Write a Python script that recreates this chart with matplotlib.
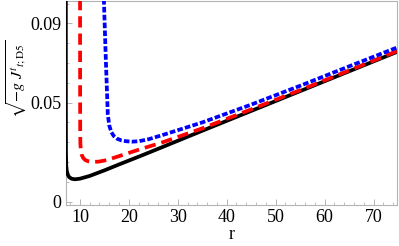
import matplotlib
matplotlib.use("Agg")
import matplotlib.pyplot as plt
from matplotlib.ticker import MultipleLocator, FixedLocator

# data
r_black = [7.12, 7.13, 7.15, 7.2, 7.3, 7.5, 7.8, 8.3, 9.0, 10.0, 12.0, 15.0, 18.0, 22.2, 26.7, 35.0, 45.0, 55.0, 65.0, 75.0]
y_black = [0.110, 0.050, 0.025, 0.0185, 0.0158, 0.0138, 0.0124, 0.0116, 0.0113, 0.0116, 0.0130, 0.0158, 0.0188, 0.0229, 0.0274, 0.0358, 0.0458, 0.0558, 0.0658, 0.0758]

r_red = [10.03, 10.04, 10.06, 10.1, 10.2, 10.4, 10.7, 11.1, 11.7, 12.5, 13.8, 15.5, 18.0, 22.2, 26.7, 35.0, 45.0, 55.0, 65.0, 75.0]
y_red = [0.110, 0.060, 0.035, 0.029, 0.0258, 0.0234, 0.0220, 0.0210, 0.0204, 0.0201, 0.0202, 0.0210, 0.0230, 0.0264, 0.0298, 0.0370, 0.0466, 0.0563, 0.0662, 0.0762]

r_blue = [14.85, 14.9, 15.3, 15.7, 16.0, 16.4, 16.9, 17.6, 18.5, 19.5, 20.7, 22.0, 24.0, 26.7, 35.0, 45.0, 55.0, 65.0, 75.0]
y_blue = [0.110, 0.1018, 0.0715, 0.0440, 0.0385, 0.0352, 0.0332, 0.0318, 0.0309, 0.0305, 0.0303, 0.0305, 0.0315, 0.0335, 0.0400, 0.0490, 0.0585, 0.0683, 0.0780]

x_ticks = [10, 20, 30, 40, 50, 60, 70]
y_ticks = [0, 0.05, 0.09]
y_tick_labels = ["0", "0.05", "0.09"]

plt.rcParams['font.family'] = ['Liberation Serif', 'DejaVu Serif']
plt.rcParams['mathtext.fontset'] = 'stix'

fig = plt.figure(figsize=(3.99, 2.46), dpi=100)
ax = fig.add_axes([0.1647, 0.1667, 0.8303, 0.8293])

ax.plot(r_black, y_black, color='black', lw=2.7, solid_capstyle='butt', solid_joinstyle='round', zorder=3)
ax.plot(r_red, y_red, color='#ff0000', lw=2.7, dashes=(3.0, 1.6), zorder=4)
ax.plot(r_blue, y_blue, color='#0000ff', lw=2.7, dashes=(1.5, 0.6), zorder=5)

ax.set_xlim(7.1, 74.8)
ax.set_ylim(-0.00167, 0.1013)

frame_color = '#b4b4b4'
for s in ax.spines.values():
    s.set_color(frame_color)
    s.set_linewidth(0.8)

ax.xaxis.set_major_locator(FixedLocator(x_ticks))
ax.xaxis.set_minor_locator(MultipleLocator(2))
ax.yaxis.set_major_locator(FixedLocator(y_ticks))
ax.set_yticklabels(y_tick_labels)
ax.yaxis.set_minor_locator(MultipleLocator(0.01))
ax.tick_params(which='both', direction='in', color=frame_color, labelsize=13, pad=3)
ax.tick_params(which='major', length=4, width=0.7)
ax.tick_params(which='minor', length=2, width=0.6)
ax.tick_params(axis='x', pad=3)

ax.set_xlabel('r', fontsize=13, labelpad=0)
ax.set_ylabel(r'$\sqrt{-g\; J^{t}{}_{t;\mathrm{D5}}}$', fontsize=11.5, labelpad=0)
ax.yaxis.set_label_coords(-0.11, 0.62)

fig.savefig('out.png', dpi=100)
